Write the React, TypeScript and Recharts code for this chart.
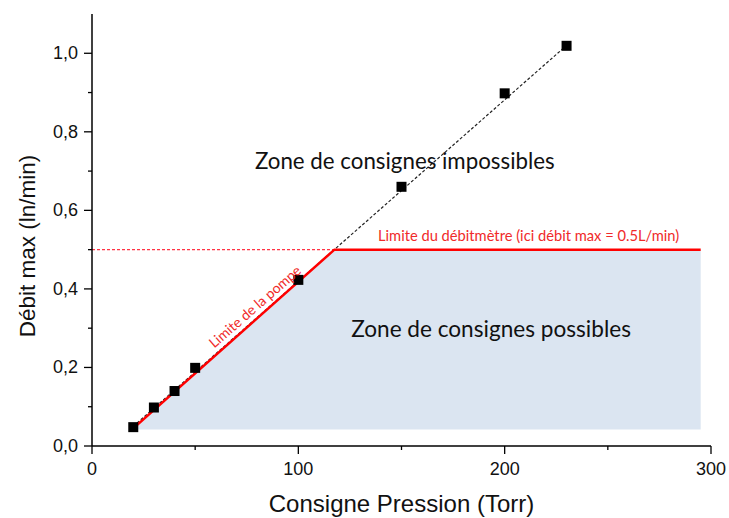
import React from 'react';
import { ComposedChart, XAxis, YAxis, Line, Area, Scatter, ReferenceDot } from 'recharts';

// Measured points
const pressure = [20, 30, 40, 50, 100, 150, 200, 230];
const debit = [0.048, 0.098, 0.14, 0.199, 0.423, 0.66, 0.898, 1.019];
// Dashed fit line endpoints
const fitPressure = [20, 230];
const fitDebit = [0.05, 1.02];
// Red limit (pump then flowmeter)
const limitPressure = [20, 117.5, 295];
const limitDebit = [0.045, 0.5, 0.5];
// Flowmeter max dashed line
const flowMaxPressure = [0, 117.5];
const flowMaxDebit = [0.5, 0.5];
const possibleBase = 0.042;

const xTicks = [0, 50, 100, 150, 200, 250, 300];
const xMajorTicks = [0, 100, 200, 300];
const yTicks = [0, 0.1, 0.2, 0.3, 0.4, 0.5, 0.6, 0.7, 0.8, 0.9, 1.0];
const yMajorTicks = [0, 0.2, 0.4, 0.6, 0.8, 1.0];

const pts = pressure.map((x, i) => ({ x, y: debit[i] }));
const fitData = fitPressure.map((x, i) => ({ x, y: fitDebit[i] }));
const limitData = limitPressure.map((x, i) => ({ x, y: limitDebit[i] }));
const flowMaxData = flowMaxPressure.map((x, i) => ({ x, y: flowMaxDebit[i] }));

const AXIS_FONT = '"Liberation Sans", Arial, sans-serif';
const NOTE_FONT = 'Lato, "Open Sans", sans-serif';
const RED = '#ff0000';
const RED_TEXT = '#f02a2a';

const fmt = (v: number) => v.toFixed(1).replace('.', ',');

const XTick = (props: any) => {
  const { x, y, payload } = props;
  const major = xMajorTicks.includes(payload.value);
  return (
    <g>
      <line x1={x} x2={x} y1={y} y2={y + (major ? 8 : 4)} stroke="#000" strokeWidth={1.3} />
      {major && (
        <text x={x} y={y + 29} textAnchor="middle" fontSize={18} fontFamily={AXIS_FONT} fill="#111">
          {payload.value}
        </text>
      )}
    </g>
  );
};

const YTick = (props: any) => {
  const { x, y, payload } = props;
  const major = yMajorTicks.some((t) => Math.abs(t - payload.value) < 1e-6);
  return (
    <g>
      <line x1={x - (major ? 8 : 4)} x2={x} y1={y} y2={y} stroke="#000" strokeWidth={1.3} />
      {major && (
        <text x={x - 14} y={y + 6} textAnchor="end" fontSize={18} fontFamily={AXIS_FONT} fill="#111">
          {fmt(payload.value)}
        </text>
      )}
    </g>
  );
};

const Square = (props: any) => {
  const { cx, cy } = props;
  return <rect x={cx - 5} y={cy - 5} width={10} height={10} fill="#000" />;
};

const note = (text: string, size: number, color: string, angle = 0) => (p: any) => {
  const vb = p.viewBox;
  const cx = vb.x + vb.width / 2;
  const cy = vb.y + vb.height / 2;
  return (
    <text
      x={cx}
      y={cy}
      textAnchor="middle"
      dominantBaseline="central"
      fontSize={size}
      fontFamily={NOTE_FONT}
      fill={color}
      transform={angle ? `rotate(${angle} ${cx} ${cy})` : undefined}
    >
      {text}
    </text>
  );
};

export default function App() {
  return (
    <div style={{ position: 'absolute', left: 0, top: 0, width: 729, height: 518, background: '#fff' }}>
      <ComposedChart width={729} height={518} margin={{ top: 14, right: 18, bottom: 0, left: 0 }}>
        <XAxis
          type="number"
          dataKey="x"
          domain={[0, 300]}
          ticks={xTicks}
          interval={0}
          height={72}
          tickSize={0}
          tickMargin={0}
          tickLine={false}
          tick={<XTick />}
          axisLine={{ stroke: '#000', strokeWidth: 1.5 }}
          label={{
            content: (p: any) => {
              const vb = p.viewBox;
              return (
                <text
                  x={vb.x + vb.width / 2}
                  y={vb.y + 57}
                  textAnchor="middle"
                  dominantBaseline="central"
                  fontSize={24}
                  fontFamily={AXIS_FONT}
                  fill="#111"
                >
                  Consigne Pression (Torr)
                </text>
              );
            },
          }}
        />
        <YAxis
          type="number"
          domain={[0, 1.1]}
          ticks={yTicks}
          interval={0}
          width={92}
          tickSize={0}
          tickMargin={0}
          tickLine={false}
          tick={<YTick />}
          axisLine={{ stroke: '#000', strokeWidth: 1.5 }}
          allowDataOverflow
          label={{
            content: (p: any) => {
              const vb = p.viewBox;
              const cx = vb.x + 27;
              const cy = vb.y + vb.height / 2 + 16;
              return (
                <text
                  x={cx}
                  y={cy}
                  textAnchor="middle"
                  dominantBaseline="central"
                  fontSize={22.5}
                  fontFamily={AXIS_FONT}
                  fill="#111"
                  transform={`rotate(-90 ${cx} ${cy})`}
                >
                  Débit max (ln/min)
                </text>
              );
            },
          }}
        />
        <Area
          data={limitData}
          dataKey="y"
          type="linear"
          baseValue={possibleBase}
          stroke="none"
          fill="#dbe5f1"
          fillOpacity={1}
          isAnimationActive={false}
        />
        <Line
          data={fitData}
          dataKey="y"
          type="linear"
          stroke="#222"
          strokeWidth={1.2}
          strokeDasharray="3 2"
          dot={false}
          isAnimationActive={false}
        />
        <Line
          data={flowMaxData}
          dataKey="y"
          type="linear"
          stroke="#ff3344"
          strokeWidth={1.2}
          strokeDasharray="3 2"
          dot={false}
          isAnimationActive={false}
        />
        <Scatter data={pts} dataKey="y" shape={<Square />} isAnimationActive={false} />
        <Line
          data={limitData}
          dataKey="y"
          type="linear"
          stroke={RED}
          strokeWidth={2.5}
          dot={false}
          isAnimationActive={false}
        />
        <ReferenceDot x={151.6} y={0.728} r={0} stroke="none" fill="none" label={{ content: note('Zone de consignes impossibles', 22.3, '#111') }} />
        <ReferenceDot x={193.4} y={0.3} r={0} stroke="none" fill="none" label={{ content: note('Zone de consignes possibles', 22.6, '#111') }} />
        <ReferenceDot x={211.6} y={0.537} r={0} stroke="none" fill="none" label={{ content: note('Limite du débitmètre (ici débit max = 0.5L/min)', 14.7, RED_TEXT) }} />
        <ReferenceDot x={78.8} y={0.356} r={0} stroke="none" fill="none" label={{ content: note('Limite de la pompe', 14, RED_TEXT, -41) }} />
      </ComposedChart>
    </div>
  );
}
